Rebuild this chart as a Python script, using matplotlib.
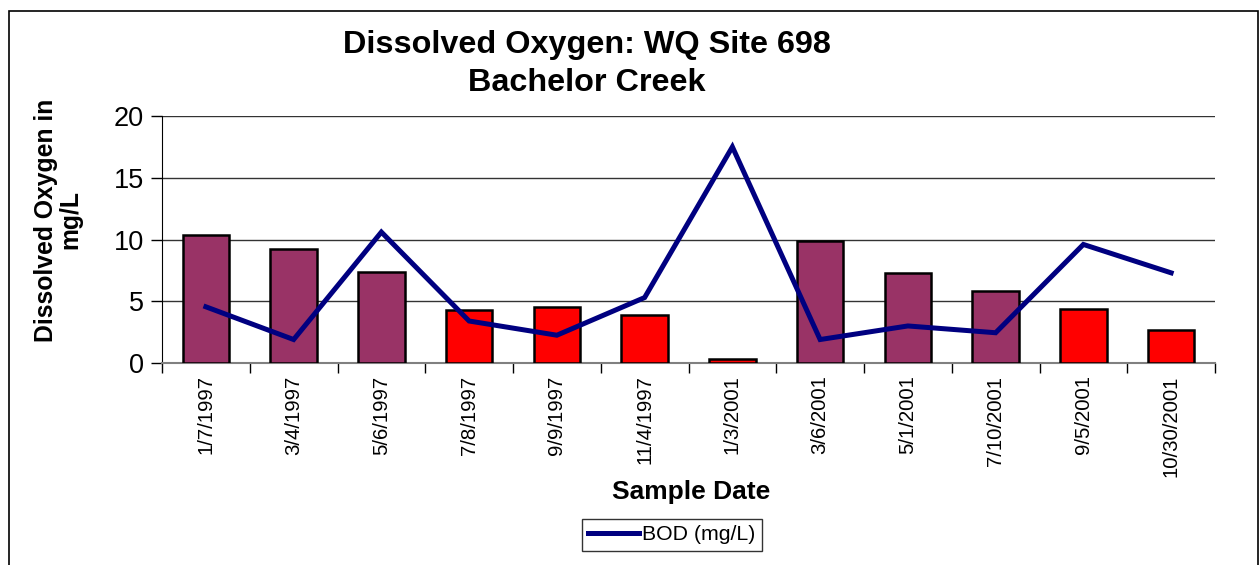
import matplotlib.pyplot as plt
from matplotlib.patches import Rectangle
from matplotlib.lines import Line2D

plt.rcParams['font.family'] = ['Liberation Sans', 'DejaVu Sans']

# Sample data
dates = ['1/7/1997', '3/4/1997', '5/6/1997', '7/8/1997', '9/9/1997', '11/4/1997',
         '1/3/2001', '3/6/2001', '5/1/2001', '7/10/2001', '9/5/2001', '10/30/2001']
dissolved_oxygen = [10.4, 9.2, 7.4, 4.3, 4.5, 3.9, 0.3, 9.9, 7.3, 5.8, 4.35, 2.7]
bod = [4.55, 1.9, 10.6, 3.4, 2.25, 5.3, 17.5, 1.9, 3.0, 2.45, 9.6, 7.3]
bar_colors = ['#993366', '#993366', '#993366', '#FF0000', '#FF0000', '#FF0000',
              '#FF0000', '#993366', '#993366', '#993366', '#FF0000', '#FF0000']

fig = plt.figure(figsize=(12.59, 5.65), dpi=100)
ax = fig.add_axes([162 / 1259, 1 - 363 / 565, (1215 - 162) / 1259, (363 - 116) / 565])

x = list(range(len(dates)))
ax.bar(x, dissolved_oxygen, width=0.53, color=bar_colors, edgecolor='black',
       linewidth=1.8, zorder=3)
ax.plot(x, bod, color='#000080', linewidth=3.6, zorder=4, solid_joinstyle='miter')

ax.set_xlim(-0.5, len(dates) - 0.5)
ax.set_ylim(0, 20)
ax.set_yticks([0, 5, 10, 15, 20])
ax.yaxis.grid(True, color='#333333', linewidth=1.0, zorder=0)
ax.tick_params(axis='y', labelsize=19.5, length=8, width=1, direction='out', pad=5)

# category labels at centres, tick marks at boundaries
ax.set_xticks(x)
ax.set_xticklabels(dates, rotation=90, fontsize=14.7, va='top')
ax.tick_params(axis='x', which='major', length=0, pad=9)
ax.set_xticks([i - 0.5 for i in range(len(dates) + 1)], minor=True)
ax.tick_params(axis='x', which='minor', length=7, width=1, direction='out', color='black')

for s in ['top', 'right']:
    ax.spines[s].set_visible(False)
ax.spines['left'].set_color('black')
ax.spines['bottom'].set_color('#808080')
ax.spines['bottom'].set_linewidth(1.5)

fig.text(58 / 1259, 1 - 220 / 565, 'Dissolved Oxygen in\nmg/L', rotation=90,
         ha='center', va='center', fontsize=17.8, fontweight='bold', linespacing=1.0)
fig.text(691 / 1259, 1 - 492 / 565, 'Sample Date', ha='center', va='center',
         fontsize=19, fontweight='bold')
fig.text(587 / 1259, 1 - 64 / 565, 'Dissolved Oxygen: WQ Site 698\nBachelor Creek',
         ha='center', va='center', fontsize=23.3, fontweight='bold', linespacing=1.35)

handle = Line2D([], [], color='#000080', linewidth=3.6)
leg = fig.legend([handle], ['BOD (mg/L)'], loc='center',
                 bbox_to_anchor=(672 / 1259, 1 - 535 / 565), fontsize=15.3,
                 frameon=True, fancybox=False, edgecolor='black', handlelength=2.4,
                 handletextpad=0.15, borderpad=0.3)
leg.get_frame().set_linewidth(1.0)

fig.patches.append(Rectangle((9 / 1259, -0.02), (1258 - 9) / 1259, 1 - 11 / 565 + 0.02,
                             transform=fig.transFigure, fill=False, edgecolor='black',
                             linewidth=1.2))

fig.savefig('out.png', dpi=100)
